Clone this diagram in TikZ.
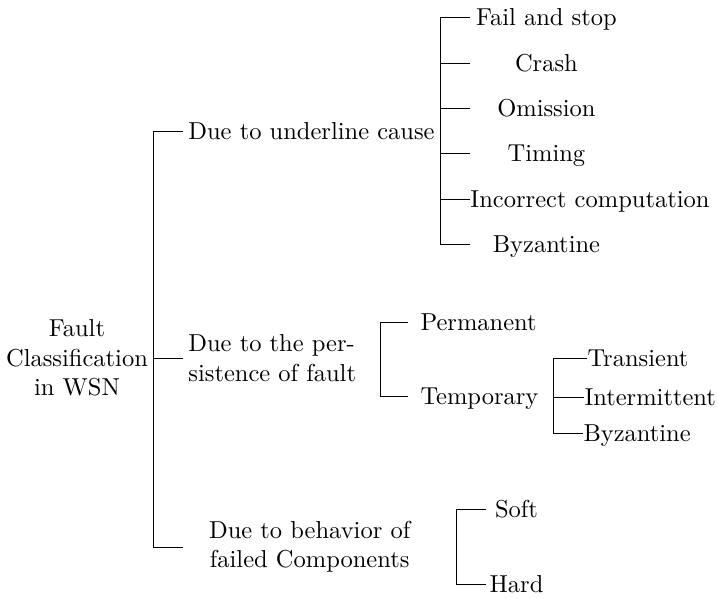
\documentclass[tikz,border=0pt]{standalone}
\begin{document}
\begin{tikzpicture}[x=0.40816pt,y=-0.40816pt,
  every node/.style={inner sep=0pt},
  leaf/.style={text height=6.83pt, text depth=0pt, anchor=west},
  wideleaf/.style={leaf, minimum width=62pt},
  link/.style={draw=black, line width=0.4pt}]
\useasboundingbox (0,0) rectangle (718,598);

% root
\node[align=center] (root) at (77,358) {Fault\\Classification\\in WSN};

% first level
\node[leaf, inner xsep=2pt] (cause) at (183,131) {Due to underline cause};
\node[anchor=west, align=left, inner xsep=2pt] (persist) at (183,358) {Due to the per-\\sistence of fault};
\node[anchor=west, align=center, text width=103pt] (behav) at (183,547) {Due to behavior of\\failed Components};

\draw[link] (cause.west) -- ++(-30,0) |- (behav.west);
\draw[link] (persist.west) -- ++(-30,0);

% underlying cause
\node[wideleaf] (fail) at (470,17) {Fail and stop};
\node[wideleaf] (crash) at (470,63) {Crash};
\node[wideleaf] (omis) at (470,108) {Omission};
\node[wideleaf] (timing) at (470,153) {Timing};
\node[wideleaf] (incorr) at (470,199) {Incorrect computation};
\node[wideleaf] (byza) at (470,244) {Byzantine};

\draw[link] (fail.west) -- ++(-30,0) |- (byza.west);
\foreach \n in {crash,omis,timing,incorr} \draw[link] (\n.west) -- ++(-30,0);

% persistence
\node[leaf, inner xsep=4.9pt] (perm) at (408,322) {Permanent};
\node[leaf, inner xsep=4.9pt] (temp) at (408,396) {Temporary};
\draw[link] (perm.west) -- ++(-28,0) |- (temp.west);

% temporary faults
\node[leaf] (trans) at (587,358) {Transient};
\node[leaf] (inter) at (584,397) {Intermittent};
\node[leaf] (byzb) at (583,433) {Byzantine};
\coordinate (tbar) at (553,358);
\draw[link] (trans.west) -- (tbar) |- (byzb.west);
\draw[link] (inter.west) -- (inter.west -| tbar);

% behaviour of failed components
\node[leaf, minimum width=24.5pt] (soft) at (486,509) {Soft};
\node[leaf, minimum width=24.5pt] (hard) at (486,584) {Hard};
\draw[link] (soft.west) -- ++(-30,0) |- (hard.west);
\end{tikzpicture}
\end{document}
